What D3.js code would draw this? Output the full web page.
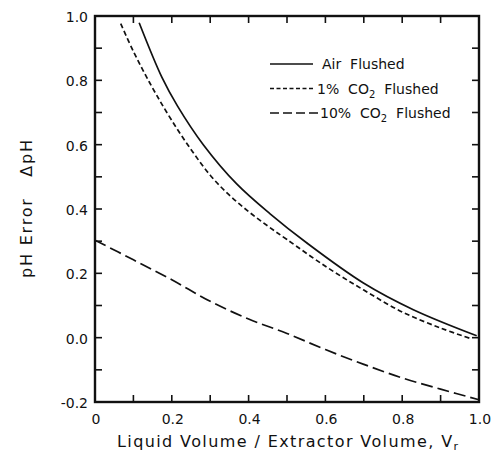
<!DOCTYPE html>
<html>
<head>
<meta charset="utf-8">
<script src="https://cdn.jsdelivr.net/npm/d3@7"></script>
<style>
  body { margin: 0; background: #fff; }
  text { font-family: "DejaVu Sans", "Liberation Sans", sans-serif; fill: #111; }
</style>
</head>
<body>
<div id="chart"></div>
<script>
// values: [V_r, pH error]
var airFlushed = [[0.115,0.979],[0.174,0.81],[0.215,0.72],[0.282,0.60],[0.369,0.478],[0.456,0.385],
  [0.551,0.295],[0.699,0.17],[0.829,0.087],[0.994,0.006]];
var co2OneFlushed = [[0.067,0.976],[0.1,0.89],[0.13,0.82],[0.16,0.755],[0.2,0.675],[0.25,0.585],
  [0.3,0.505],[0.35,0.443],[0.4,0.392],[0.45,0.347],[0.5,0.305],[0.6,0.222],[0.7,0.148],
  [0.8,0.08],[0.9,0.03],[0.981,-0.004]];
var co2TenFlushed = [[0.0,0.303],[0.1,0.242],[0.2,0.18],[0.3,0.113],[0.4,0.058],[0.5,0.013],
  [0.6,-0.037],[0.7,-0.083],[0.8,-0.125],[0.9,-0.16],[1.0,-0.193]];

var xTicks = [0, 0.2, 0.4, 0.6, 0.8, 1.0];
var xTickLabels = ["0", "0.2", "0.4", "0.6", "0.8", "1.0"];
var yTicks = [-0.2, 0, 0.2, 0.4, 0.6, 0.8, 1.0];
var yTickLabels = ["-0.2", "0.0", "0.2", "0.4", "0.6", "0.8", "1.0"];
var minorX = [0.1, 0.3, 0.5, 0.7, 0.9];
var minorY = [-0.1, 0.1, 0.3, 0.5, 0.7, 0.9];

var seriesNames = ["Air  Flushed", "1%  CO", "10%  CO"];

var width = 491, height = 453;
var plotLeft = 95, plotRight = 479, plotTop = 16, plotBottom = 402;

var svg = d3.select("#chart").append("svg")
  .attr("width", width)
  .attr("height", height);

var x = d3.scaleLinear().domain([0, 1]).range([plotLeft, plotRight]);
var y = d3.scaleLinear().domain([-0.2, 1.0]).range([plotBottom, plotTop]);

var line = d3.line()
  .x(function(d) { return x(d[0]); })
  .y(function(d) { return y(d[1]); })
  .curve(d3.curveCatmullRom);

// frame
svg.append("rect")
  .attr("x", plotLeft).attr("y", plotTop)
  .attr("width", plotRight - plotLeft).attr("height", plotBottom - plotTop)
  .attr("fill", "none")
  .attr("stroke", "#111")
  .attr("stroke-width", 2.4);

// ticks on all four sides, pointing inward
var tickLen = 7;
var allX = xTicks.concat(minorX);
var allY = yTicks.concat(minorY);
var tickG = svg.append("g").attr("stroke", "#111").attr("stroke-width", 1.6);

allX.forEach(function(v) {
  tickG.append("line").attr("x1", x(v)).attr("x2", x(v)).attr("y1", plotBottom).attr("y2", plotBottom - tickLen);
  tickG.append("line").attr("x1", x(v)).attr("x2", x(v)).attr("y1", plotTop).attr("y2", plotTop + tickLen);
});
allY.forEach(function(v) {
  tickG.append("line").attr("y1", y(v)).attr("y2", y(v)).attr("x1", plotLeft).attr("x2", plotLeft + tickLen);
  tickG.append("line").attr("y1", y(v)).attr("y2", y(v)).attr("x1", plotRight).attr("x2", plotRight - tickLen);
});

// tick labels
svg.selectAll(".xlab")
  .data(xTicks)
  .enter().append("text")
  .attr("class", "xlab")
  .attr("x", function(d) { return x(d) + 1; })
  .attr("y", plotBottom + 22)
  .attr("text-anchor", "middle")
  .attr("font-size", "14px")
  .text(function(d, i) { return xTickLabels[i]; });

svg.selectAll(".ylab")
  .data(yTicks)
  .enter().append("text")
  .attr("class", "ylab")
  .attr("x", plotLeft - 7)
  .attr("y", function(d) { return y(d) + 6; })
  .attr("text-anchor", "end")
  .attr("font-size", "14px")
  .text(function(d, i) { return yTickLabels[i]; });

// axis titles
var xTitle = svg.append("text")
  .attr("x", 117)
  .attr("y", 447)
  .attr("font-size", "16px")
  .attr("textLength", 341)
  .attr("lengthAdjust", "spacing")
  .text("Liquid Volume / Extractor Volume, V");
xTitle.append("tspan")
  .attr("font-size", "11px")
  .attr("dy", 3)
  .text("r");

svg.append("text")
  .attr("transform", "translate(32,209) rotate(-90)")
  .attr("text-anchor", "middle")
  .attr("font-size", "16px")
  .attr("xml:space", "preserve")
  .attr("textLength", 138)
  .attr("lengthAdjust", "spacing")
  .text("pH Error   \u0394pH");

// curves
var series = [
  {data: airFlushed, dash: null},
  {data: co2OneFlushed, dash: "5,3"},
  {data: co2TenFlushed, dash: "12,5"}
];

svg.selectAll(".curve")
  .data(series)
  .enter().append("path")
  .attr("class", "curve")
  .attr("d", function(d) { return line(d.data); })
  .attr("fill", "none")
  .attr("stroke", "#111")
  .attr("stroke-width", 1.7)
  .attr("stroke-dasharray", function(d) { return d.dash; });

// legend
var legendDash = [null, "4,2.5", "9,4"];
var legendTextX = [52, 47, 50];
var legend = svg.append("g").attr("transform", "translate(270,64)");
seriesNames.forEach(function(name, i) {
  var g = legend.append("g").attr("transform", "translate(0," + (i * 24.5) + ")");
  g.append("line")
    .attr("x1", 0).attr("x2", i == 2 ? 48 : 43).attr("y1", 0).attr("y2", 0)
    .attr("stroke", "#111")
    .attr("stroke-width", 1.6)
    .attr("stroke-dasharray", legendDash[i]);
  var t = g.append("text")
    .attr("x", legendTextX[i])
    .attr("y", 5)
    .attr("font-size", "14px")
    .attr("xml:space", "preserve")
    .text(name);
  if (i > 0) {
    t.append("tspan").attr("font-size", "10px").attr("dy", 4).text("2");
    t.append("tspan").attr("dy", -4).text("  Flushed");
  }
});
</script>
</body>
</html>
